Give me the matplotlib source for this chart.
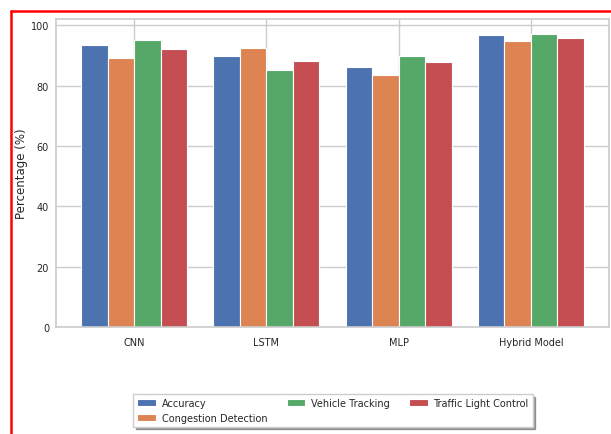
import matplotlib
matplotlib.use("Agg")
import matplotlib.pyplot as plt
import seaborn as sns
import numpy as np
from matplotlib.lines import Line2D

sns.set_theme(style="whitegrid")
plt.rcParams['font.family'] = ['DejaVu Sans']

models = ["CNN", "LSTM", "MLP", "Hybrid Model"]
metrics = ["Accuracy", "Congestion Detection", "Vehicle Tracking", "Traffic Light Control"]
accuracy = [93.4, 89.7, 86.1, 96.6]
congestion = [89.2, 92.6, 83.4, 94.8]
tracking = [95.0, 85.2, 89.8, 97.2]
traffic_light = [92.2, 88.2, 87.7, 95.6]
series = [accuracy, congestion, tracking, traffic_light]

W, H = 611, 435
fig = plt.figure(figsize=(W / 100, H / 100), dpi=100)
ax = fig.add_axes([56 / W, 1 - 328 / H, (609 - 56) / W, (328 - 20) / H])

palette = sns.color_palette("deep")
x = np.arange(len(models))
width = 0.2
for i, (name, vals) in enumerate(zip(metrics, series)):
    ax.bar(x + (i - 1.5) * width, vals, width, label=name, color=palette[i],
           edgecolor="white", linewidth=0.8)

ax.set_xticks(x)
ax.set_xticklabels(models, fontsize=7)
ax.tick_params(axis="y", labelsize=7, length=0, pad=5)
ax.tick_params(axis="x", length=0, pad=7)
ax.set_ylabel("Percentage (%)", fontsize=8.5)
ax.yaxis.set_label_coords(-(56 - 28) / 553, 0.5)
for s in ax.spines.values():
    s.set_color("#cccccc")
    s.set_linewidth(1.2)

fig.legend(loc="upper center", bbox_to_anchor=(333 / W, 1 - 395 / H), ncol=3,
           fontsize=7, shadow=True, frameon=True, borderaxespad=0,
           fancybox=False, edgecolor="#cccccc", handlelength=1.9,
           handletextpad=0.6, columnspacing=2.0)

# red frame
fig.add_artist(Line2D([11 / W, 11 / W], [0, 1 - 12 / H], transform=fig.transFigure,
                      color="red", linewidth=1.8))
fig.add_artist(Line2D([11 / W, 1], [1 - 12 / H, 1 - 12 / H], transform=fig.transFigure,
                      color="red", linewidth=1.8))

fig.savefig("out.png", dpi=100)
